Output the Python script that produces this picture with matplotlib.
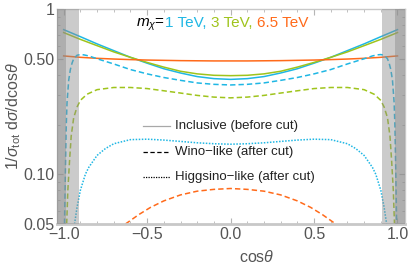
import numpy as np
import matplotlib
matplotlib.use('Agg')
from matplotlib import pyplot as plt

plt.rcParams['font.family'] = ['Liberation Sans', 'DejaVu Sans']
plt.rcParams['mathtext.fontset'] = 'custom'
plt.rcParams['mathtext.rm'] = 'Liberation Sans'
plt.rcParams['mathtext.it'] = 'Liberation Sans:italic'

################################ data ################################
c_incl = [-1.0, -0.9, -0.8, -0.7, -0.6, -0.5, -0.4, -0.3, -0.2, -0.1, 0.0,
          0.1, 0.2, 0.3, 0.4, 0.5, 0.6, 0.7, 0.8, 0.9, 1.0]
incl_1tev = [0.75, 0.68, 0.615, 0.56, 0.51, 0.47, 0.435, 0.41, 0.39, 0.379, 0.375,
             0.379, 0.39, 0.41, 0.435, 0.47, 0.51, 0.56, 0.615, 0.68, 0.75]
incl_3tev = [0.72, 0.655, 0.60, 0.55, 0.51, 0.475, 0.445, 0.42, 0.405, 0.397, 0.395,
             0.397, 0.405, 0.42, 0.445, 0.475, 0.51, 0.55, 0.60, 0.655, 0.72]
incl_65tev = [0.52, 0.51, 0.503, 0.498, 0.494, 0.491, 0.489, 0.487, 0.486, 0.485, 0.485,
              0.485, 0.486, 0.487, 0.489, 0.491, 0.494, 0.498, 0.503, 0.51, 0.52]

c_wino_1 = [-0.995, -0.99, -0.985, -0.98, -0.97, -0.96, -0.95, -0.94, -0.92, -0.9, -0.88,
            -0.85, -0.8, -0.7, -0.6, -0.5, -0.4, -0.3, -0.2, -0.1, 0.0,
            0.1, 0.2, 0.3, 0.4, 0.5, 0.6, 0.7, 0.8, 0.85, 0.88,
            0.9, 0.92, 0.94, 0.95, 0.96, 0.97, 0.98, 0.985, 0.99, 0.995]
wino_1tev = [0.05, 0.10, 0.19, 0.27, 0.37, 0.43, 0.47, 0.50, 0.525, 0.53, 0.528,
             0.52, 0.50, 0.465, 0.43, 0.405, 0.385, 0.37, 0.357, 0.35, 0.347,
             0.35, 0.357, 0.37, 0.385, 0.405, 0.43, 0.465, 0.50, 0.52, 0.528,
             0.53, 0.525, 0.50, 0.47, 0.43, 0.37, 0.27, 0.19, 0.10, 0.05]

c_wino_3 = [-0.982, -0.975, -0.965, -0.955, -0.94, -0.92, -0.9, -0.86, -0.8, -0.7, -0.6,
            -0.5, -0.4, -0.3, -0.2, -0.1, 0.0, 0.1, 0.2, 0.3, 0.4,
            0.5, 0.6, 0.7, 0.8, 0.86, 0.9, 0.92, 0.94, 0.955, 0.965, 0.975, 0.982]
wino_3tev = [0.05, 0.08, 0.12, 0.17, 0.22, 0.255, 0.28, 0.305, 0.325, 0.335, 0.335,
             0.33, 0.32, 0.31, 0.30, 0.293, 0.29, 0.293, 0.30, 0.31, 0.32,
             0.33, 0.335, 0.335, 0.325, 0.305, 0.28, 0.255, 0.22, 0.17, 0.12, 0.08, 0.05]

c_wino_65 = [-0.63, -0.55, -0.48, -0.4, -0.3, -0.2, -0.1, 0.0, 0.1, 0.2, 0.3, 0.4, 0.48, 0.55, 0.63]
wino_65tev = [0.05, 0.057, 0.063, 0.069, 0.075, 0.079, 0.081, 0.082, 0.081, 0.079, 0.075,
              0.069, 0.063, 0.057, 0.05]

c_higgs_1 = [-0.935, -0.92, -0.9, -0.87, -0.85, -0.8, -0.75, -0.7, -0.6, -0.5, -0.4, -0.3, -0.2, -0.1, 0.0,
             0.1, 0.2, 0.3, 0.4, 0.5, 0.6, 0.7, 0.75, 0.8, 0.85, 0.87, 0.9, 0.92, 0.935]
higgs_1tev = [0.05, 0.063, 0.08, 0.10, 0.11, 0.13, 0.143, 0.153, 0.162, 0.163, 0.161, 0.158, 0.155, 0.153, 0.152,
              0.153, 0.155, 0.158, 0.161, 0.163, 0.162, 0.153, 0.143, 0.13, 0.11, 0.10, 0.08, 0.063, 0.05]

cut_outer = 0.906   # light grey band
cut_inner = 0.984   # dark grey band

blue = '#1fb7e4'
green = '#9fc41c'
orange = '#ff6a1a'
#############################################################################################

fig = plt.figure(figsize=(4.11, 2.70), dpi=100)
ax = fig.add_axes([57/411, 1-224/270, 348/411, 215/270])

lw = 1.1
ax.plot(c_incl, incl_1tev, color=blue, lw=lw)
ax.plot(c_incl, incl_3tev, color=green, lw=lw)
ax.plot(c_incl, incl_65tev, color=orange, lw=lw)
ax.plot(c_wino_1, wino_1tev, color=blue, lw=lw, dashes=(3.5, 2))
ax.plot(c_wino_3, wino_3tev, color=green, lw=lw, dashes=(3.5, 2))
ax.plot(c_wino_65, wino_65tev, color=orange, lw=lw, dashes=(3.5, 2))
ax.plot(c_higgs_1, higgs_1tev, color=blue, lw=lw, dashes=(1, 1))

# cut regions, drawn on top like in the original
for lo, hi in [(-1.1, -cut_outer), (cut_outer, 1.1)]:
    ax.axvspan(lo, hi, color='#8c8c8c', alpha=0.45, lw=0, zorder=5)
for lo, hi in [(-1.1, -cut_inner), (cut_inner, 1.1)]:
    ax.axvspan(lo, hi, color='#8c8c8c', alpha=0.45, lw=0, zorder=5)

ax.set_yscale('log')
ax.set_xlim(-1.04, 1.045)
ax.set_ylim(0.05, 1.0)
ax.set_xticks([-1.0, -0.5, 0.0, 0.5, 1.0])
ax.set_xticklabels(['\u22121.0', '\u22120.5', '0.0', '0.5', '1.0'])
ax.set_xticks(np.arange(-1.0, 1.01, 0.1), minor=True)
ax.set_yticks([0.05, 0.1, 0.5, 1.0])
ax.set_yticklabels(['0.05', '0.10', '0.50', '1'])
ax.yaxis.set_minor_formatter(matplotlib.ticker.NullFormatter())
ax.tick_params(which='both', direction='in', top=True, right=True, colors='#b5b5b5',
               labelcolor='#555555', labelsize=11.5, pad=2)
ax.tick_params(which='major', length=4, width=0.8)
ax.tick_params(which='minor', length=2.5, width=0.6)
for s in ax.spines.values():
    s.set_color('#c8c8c8')
    s.set_linewidth(1.0)
ax.spines['bottom'].set_linewidth(2.0)

fig.text(257/411, 1-257/270, r'cos$\theta$', ha='center', va='center', fontsize=11.5, color='#555555')
fig.text(14/411, 0.57, r'$1/\sigma_{\mathrm{tot}}\ \mathrm{d}\sigma/\mathrm{dcos}\theta$', rotation=90,
         ha='center', va='center', fontsize=11.5, color='#555555')

# title: m_chi = 1 TeV, 3 TeV, 6.5 TeV
pieces = [(r'$m_\chi$=', 'black'), ('1 TeV, ', blue), ('3 TeV, ', green), ('6.5 TeV', orange)]
fig.canvas.draw()
renderer = fig.canvas.get_renderer()
xpos = 136
for txt, col in pieces:
    t = fig.text(xpos/411, 1-27/270, txt, color=col, fontsize=11, ha='left', va='baseline')
    xpos += t.get_window_extent(renderer).width

# legend
leg = [(126, '-', '#a8a8a8', 'Inclusive (before cut)'),
       (152, (0, (3.5, 2)), 'black', 'Wino\u2212like (after cut)'),
       (177, (0, (1, 1)), 'black', 'Higgsino\u2212like (after cut)')]
for ypx, ls, col, lab in leg:
    yy = (224-ypx)/215
    ax.plot([(143-57)/348, (170-57)/348], [yy, yy], ls=ls, color=col, lw=0.9,
            transform=ax.transAxes, clip_on=False)
    ax.text((175-57)/348, yy, lab, transform=ax.transAxes, va='center', ha='left',
            fontsize=9.5, color='#222222')

plt.savefig('out.png', dpi=100)
